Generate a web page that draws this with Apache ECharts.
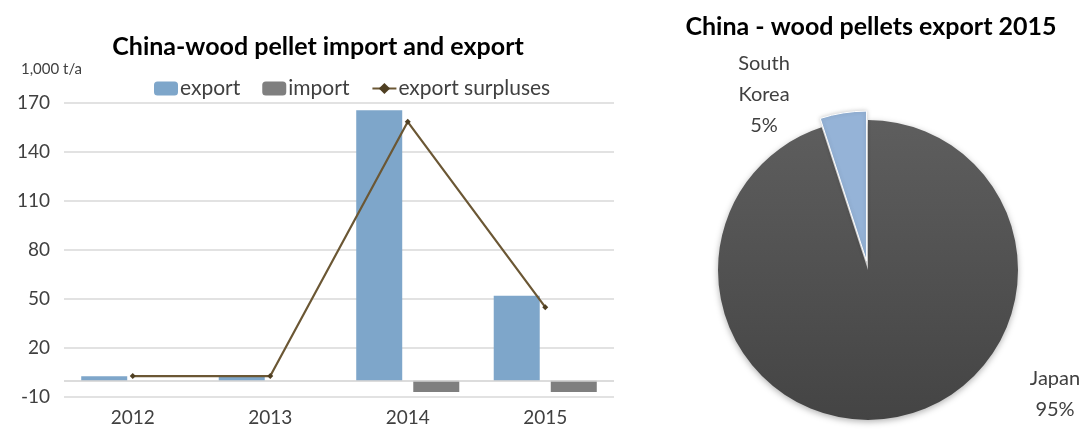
<!DOCTYPE html>
<html>
<head>
<meta charset="utf-8">
<script src="https://cdn.jsdelivr.net/npm/echarts@6/dist/echarts.min.js"></script>
<style>
html,body{margin:0;padding:0;background:#fff;}
#chart{width:1090px;height:437px;}
</style>
</head>
<body>
<div id="chart"></div>
<script>
// ---- data ----
var years = ['2012', '2013', '2014', '2015'];
var exportValues = [2.7, 2.6, 165.5, 52];
var importValues = [0, 0, -7, -7];
var surplusValues = [2.8, 2.8, 158.5, 45];
var yTicks = { min: -10, max: 170, interval: 30 };
var pieNames = ['Japan', 'South Korea'];
var pieValues = [95, 5];

var FONT = 'Lato, "Open Sans", sans-serif';
var TXT = '#404040';

// pie geometry
var PIE_C = [868, 270];
var PIE_R = 150;
var EXPLODE = 9;
var koreaMid = 90 + 360 * pieValues[1] / (pieValues[0] + pieValues[1]) / 2;
var rad = koreaMid * Math.PI / 180;
var PIE_C2 = [PIE_C[0] + EXPLODE * Math.cos(rad), PIE_C[1] - EXPLODE * Math.sin(rad)];

function pieLabel(x, y) {
  return {
    show: true, position: 'outside',
    fontFamily: FONT, fontSize: 20, color: TXT, lineHeight: 31, align: 'center',
    formatter: function (p) { return p.name.replace(' ', '\n') + '\n' + p.percent + '%'; }
  };
}
var hidden = { color: 'rgba(0,0,0,0)', borderWidth: 0, shadowBlur: 0 };

var chart = echarts.init(document.getElementById('chart'));
var option = {
  animation: false,
  backgroundColor: '#fff',
  textStyle: { fontFamily: FONT },
  title: [
    { text: 'China-wood pellet import and export', left: 313, top: 29, textAlign: 'center',
      textStyle: { fontFamily: FONT, fontWeight: 'bold', fontSize: 25, color: '#000' } },
    { text: '1,000 t/a', left: 16, top: 57,
      textStyle: { fontFamily: FONT, fontWeight: 'normal', fontSize: 15, color: TXT } },
    { text: 'China - wood pellets export 2015', left: 866, top: 9, textAlign: 'center',
      textStyle: { fontFamily: FONT, fontWeight: 'bold', fontSize: 25, color: '#000', letterSpacing: -0.3 } }
  ],
  legend: {
    top: 73, left: 149,
    itemWidth: 24, itemHeight: 14, itemGap: 22,
    textStyle: { fontFamily: FONT, fontSize: 21, color: TXT, padding: [0, 0, 0, -3] },
    data: [
      { name: 'export' },
      { name: 'import' },
      { name: 'export surpluses' }
    ]
  },
  grid: { left: 64, right: 476, top: 103, bottom: 40, containLabel: false },
  xAxis: {
    type: 'category', data: years,
    axisLine: { show: false, onZero: false },
    axisTick: { show: false },
    axisLabel: { fontFamily: FONT, fontSize: 19, color: TXT, margin: 11 }
  },
  yAxis: {
    type: 'value', min: yTicks.min, max: yTicks.max, interval: yTicks.interval,
    axisLine: { show: false }, axisTick: { show: false },
    axisLabel: { fontFamily: FONT, fontSize: 19, color: TXT, margin: 14 },
    splitLine: { lineStyle: { color: '#d9d9d9', width: 1.5 } }
  },
  series: [
    {
      name: 'export', type: 'bar', data: exportValues,
      barWidth: 46, barGap: '24%',
      itemStyle: { color: '#7ea6ca' },
      markLine: {
        silent: true, symbol: 'none', label: { show: false },
        lineStyle: { color: '#d0d0d0', type: 'solid', width: 1.5 },
        data: [{ yAxis: 0 }]
      }
    },
    {
      name: 'import', type: 'bar', data: importValues,
      barWidth: 46,
      itemStyle: { color: '#7f7f7f' }
    },
    {
      name: 'export surpluses', type: 'line', data: surplusValues,
      symbol: 'diamond', symbolSize: 6,
      lineStyle: { color: '#6b5734', width: 2.2 },
      itemStyle: { color: '#4f3f22' },
      z: 5
    },
    {
      name: 'pieMain', type: 'pie', silent: true,
      center: PIE_C, radius: PIE_R,
      startAngle: 90, clockwise: true,
      avoidLabelOverlap: false, legendHoverLink: false,
      label: pieLabel(),
      labelLine: { show: false },
      labelLayout: function (params) {
        return { x: 1055, y: 394, align: 'center', verticalAlign: 'middle' };
      },
      data: [
        { name: pieNames[0], value: pieValues[0],
          itemStyle: { color: { type: 'linear', x: 0, y: 0, x2: 0, y2: 1,
            colorStops: [{ offset: 0, color: '#5e5e5e' }, { offset: 1, color: '#444444' }] },
            shadowBlur: 6, shadowColor: 'rgba(0,0,0,0.3)', shadowOffsetY: 2 } },
        { name: pieNames[1], value: pieValues[1], itemStyle: hidden, label: { show: false } }
      ]
    },
    {
      name: 'pieExploded', type: 'pie', silent: true,
      center: PIE_C2, radius: PIE_R,
      startAngle: 90, clockwise: true,
      avoidLabelOverlap: false, legendHoverLink: false,
      label: pieLabel(),
      labelLine: { show: false },
      labelLayout: function (params) {
        return { x: 764, y: 95, align: 'center', verticalAlign: 'middle' };
      },
      data: [
        { name: pieNames[0], value: pieValues[0], itemStyle: hidden, label: { show: false } },
        { name: pieNames[1], value: pieValues[1],
          itemStyle: { color: '#95b3d7', borderColor: '#fff', borderWidth: 1,
            shadowBlur: 4, shadowColor: 'rgba(0,0,0,0.2)' } }
      ]
    }
  ]
};
chart.setOption(option);
</script>
</body>
</html>
